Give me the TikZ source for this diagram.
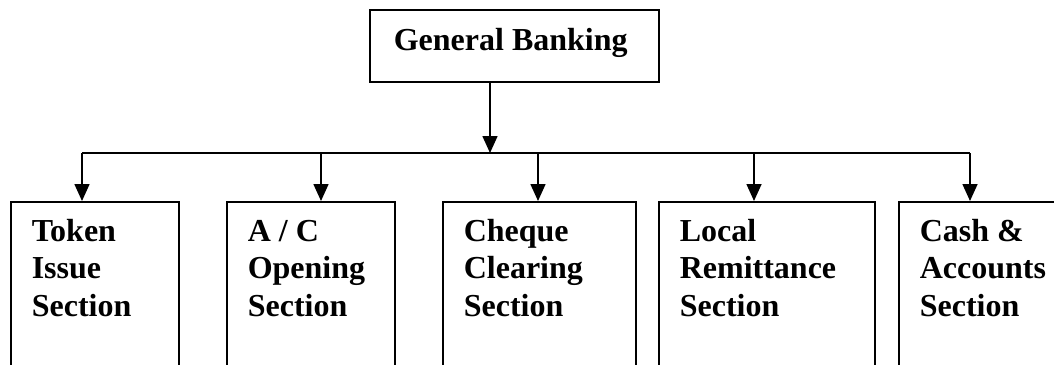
\documentclass[tikz,border=0pt]{standalone}
\usepackage{fontspec}
\setmainfont{Liberation Serif}
\usetikzlibrary{arrows.meta}
\begin{document}
\begin{tikzpicture}[x=1pt, y=-1pt, line width=1.6pt,
  unitbox/.style={draw, rectangle, anchor=north west, inner sep=0pt,
    minimum width=#1, minimum height=220pt},
  headbox/.style={draw, rectangle, anchor=north west, inner sep=0pt,
    minimum width=289pt, minimum height=72pt},
  caption/.style={anchor=base west, align=left, inner sep=0pt,
    font=\fontsize{32}{37.5}\selectfont\bfseries},
  feed/.style={-{Triangle[length=17pt, width=15pt]}}]
  \useasboundingbox (0,0) rectangle (1054,364);
  \clip (0,0) rectangle (1054,364);

  % head of the chart
  \node[headbox] (top) at (369,9) {};
  \node[caption] (top-text) at (393,50) {General Banking};

  % sections (captions are placed by the baseline of their last line)
  \node[unitbox=168pt] (box1) at (10,201) {};
  \node[unitbox=168pt] (box2) at (226,201) {};
  \node[unitbox=193pt] (box3) at (442,201) {};
  \node[unitbox=216pt] (box4) at (658,201) {};
  \node[unitbox=240pt] (box5) at (898,201) {};

  \node[caption] (text1) at (31,316) {Token\\Issue\\Section};
  \node[caption] (text2) at (247,316) {A / C\\Opening\\Section};
  \node[caption] (text3) at (463,316) {Cheque\\Clearing\\Section};
  \node[caption] (text4) at (679,316) {Local\\Remittance\\Section};
  \node[caption] (text5) at (919,316) {Cash \&\\Accounts\\Section};

  % distribution bus
  \coordinate (bus1) at (82,153);
  \coordinate (bus2) at (321,153);
  \coordinate (bus3) at (538,153);
  \coordinate (bus4) at (754,153);
  \coordinate (bus5) at (970,153);
  \coordinate (drop) at (490,153);

  \draw[feed] (top.south -| drop) -- (drop);
  \draw (bus1) -- (bus5);
  \foreach \i in {1,...,5}
    \draw[feed] (bus\i) -- (bus\i |- box\i.north);
\end{tikzpicture}
\end{document}
